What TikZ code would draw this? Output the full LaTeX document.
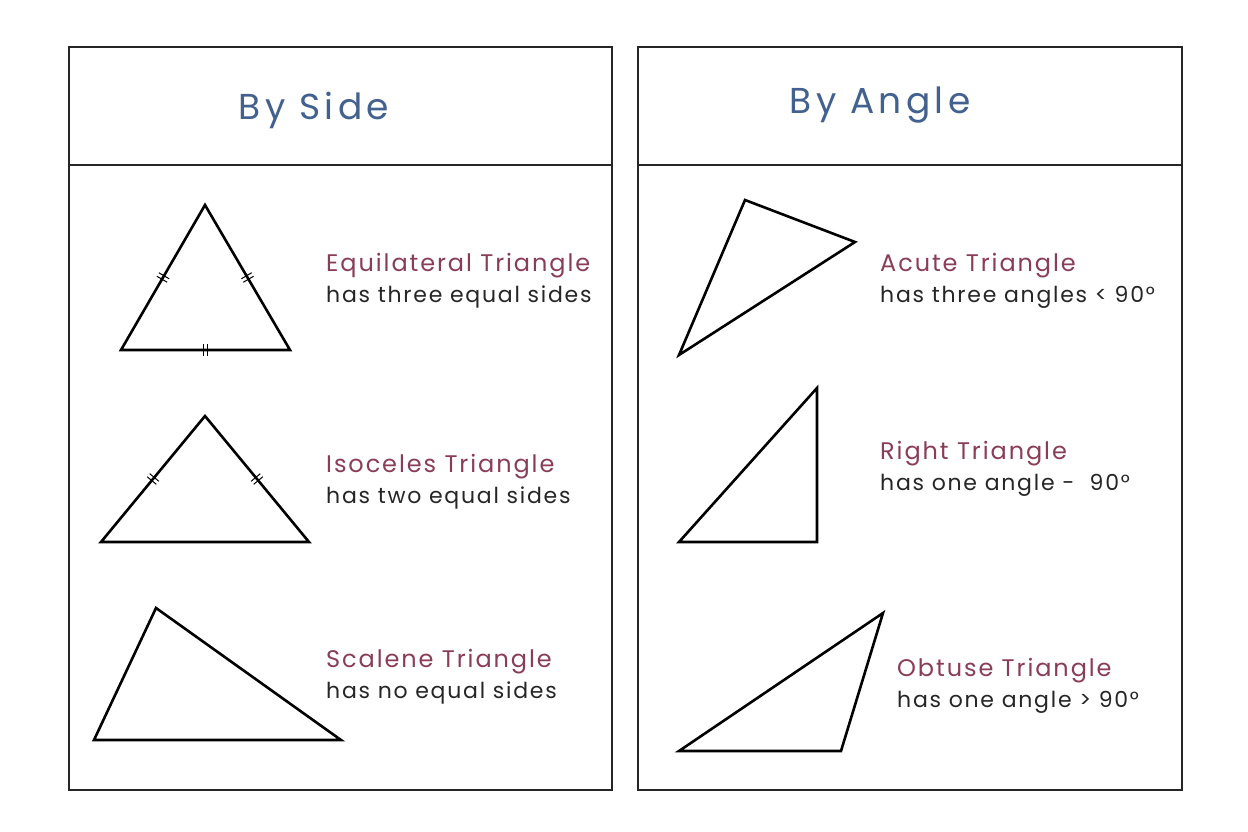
\documentclass[tikz,border=0pt]{standalone}
\usepackage{fontspec}
\setmainfont{Poppins}
\newfontfamily\titlefont{Poppins}[LetterSpace=12]
\newfontfamily\labelfont{Poppins}[LetterSpace=8]
\newfontfamily\descfont{Poppins}[LetterSpace=8]
\usetikzlibrary{calc,decorations.markings}
\definecolor{titleblue}{HTML}{42618F}
\definecolor{labelred}{HTML}{8A3D58}
\definecolor{bodygray}{HTML}{262626}
\begin{document}
\begin{tikzpicture}[x=1pt,y=-1pt,
  panel/.style={draw=black!85,line width=2pt},
  tri/.style={draw=black,line width=2.6pt,line join=miter},
  titletext/.style={text=titleblue,font=\titlefont\fontsize{36}{40}\selectfont,inner sep=0pt},
  trilabel/.style={text=labelred,font=\labelfont\fontsize{24}{28}\selectfont,anchor=base west,inner sep=0pt},
  tridesc/.style={text=bodygray,font=\descfont\fontsize{22}{26}\selectfont,anchor=base west,inner sep=0pt},
  ticks/.style={postaction={decorate},decoration={markings,
    mark=at position 0.5 with {\draw[line width=1pt] (-2pt,-6pt) -- (-2pt,6pt) (2pt,-6pt) -- (2pt,6pt);}}}
]
\useasboundingbox[fill=white] (0,0) rectangle (1248,832);
% panels
\node[panel,minimum width=543pt,minimum height=743pt,anchor=north west,inner sep=0pt] (lp) at (68,46) {};
\node[panel,minimum width=544pt,minimum height=743pt,anchor=north west,inner sep=0pt] (rp) at (637,46) {};
\coordinate (lh1) at (68,165); \coordinate (lh2) at (611,165);
\coordinate (rh1) at (637,165); \coordinate (rh2) at (1181,165);
\draw[panel] (lh1) -- (lh2);
\draw[panel] (rh1) -- (rh2);
\node[titletext] (ts) at (314,110) {By Side};
\node[titletext] (ta) at (880,105) {By Angle};
% equilateral
\coordinate (e1) at (205,205); \coordinate (e2) at (121,350); \coordinate (e3) at (290,350);
\draw[tri] (e1) -- (e2) -- (e3) -- cycle;
\path[ticks] (e1) -- (e2);
\path[ticks] (e1) -- (e3);
\path[ticks] (e2) -- (e3);
\node[trilabel] (en) at (326,271) {Equilateral Triangle};
\node[tridesc] (ed) at (326,302) {has three equal sides};
% isoceles
\coordinate (i1) at (205,416); \coordinate (i2) at (101,542); \coordinate (i3) at (309,542);
\draw[tri] (i1) -- (i2) -- (i3) -- cycle;
\path[ticks] (i1) -- (i2);
\path[ticks] (i1) -- (i3);
\node[trilabel] (in) at (326,472) {Isoceles Triangle};
\node[tridesc] (id) at (326,503) {has two equal sides};
% scalene
\coordinate (s1) at (156,608); \coordinate (s2) at (94,740); \coordinate (s3) at (341,740);
\draw[tri] (s1) -- (s2) -- (s3) -- cycle;
\node[trilabel] (sn) at (326,667) {Scalene Triangle};
\node[tridesc] (sd) at (326,698) {has no equal sides};
% acute
\coordinate (a1) at (745,200); \coordinate (a2) at (855,242); \coordinate (a3) at (679,355);
\draw[tri] (a1) -- (a2) -- (a3) -- cycle;
\node[trilabel] (an) at (880,271) {Acute Triangle};
\node[tridesc] (ad) at (880,302) {has three angles < 90°};
% right
\coordinate (r1) at (817,388); \coordinate (r2) at (817,542); \coordinate (r3) at (679,542);
\draw[tri] (r1) -- (r2) -- (r3) -- cycle;
\node[trilabel] (rn) at (880,459) {Right Triangle};
\node[tridesc] (rd) at (880,490) {has one angle -~ 90°};
% obtuse
\coordinate (o1) at (883,613); \coordinate (o2) at (841,751); \coordinate (o3) at (679,751);
\draw[tri] (o1) -- (o2) -- (o3) -- cycle;
\node[trilabel] (on) at (897,676) {Obtuse Triangle};
\node[tridesc] (od) at (897,707) {has one angle > 90°};
\end{tikzpicture}
\end{document}
